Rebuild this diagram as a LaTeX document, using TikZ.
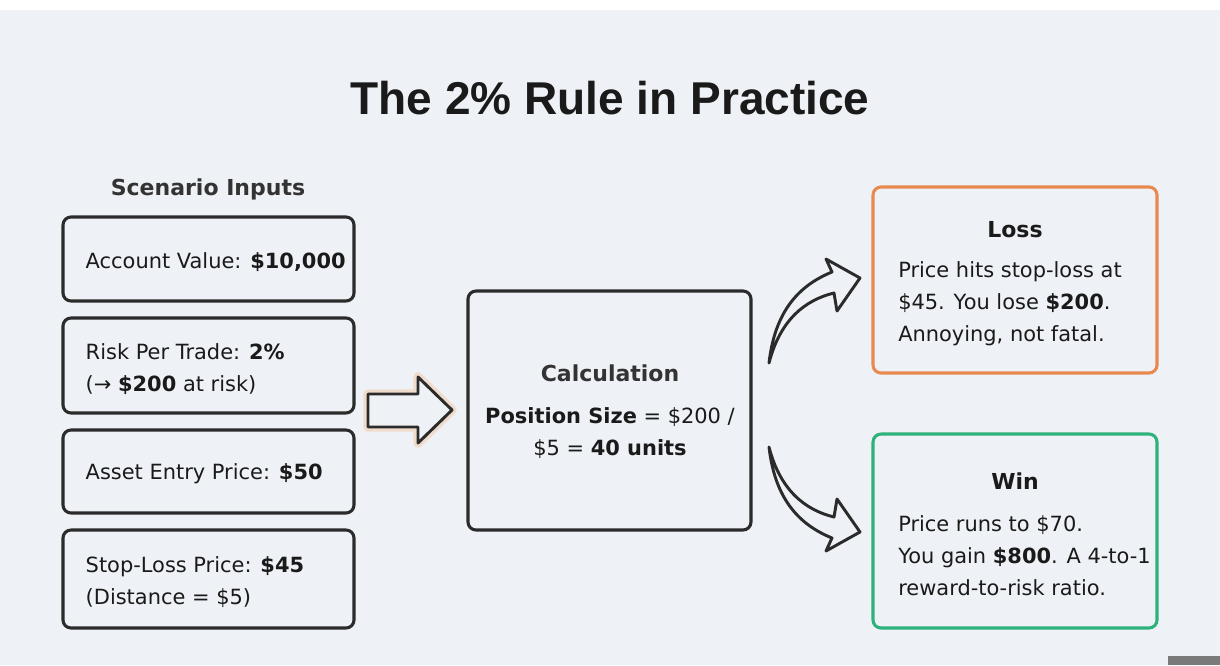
\documentclass[tikz,border=0pt]{standalone}
\usepackage{fontspec}
\setmainfont{DejaVu Sans}
\newfontfamily\headfont{Liberation Sans}
\usetikzlibrary{positioning,calc}
\definecolor{bg}{HTML}{EEF1F5}
\definecolor{ink}{HTML}{1A1A1A}
\definecolor{ink2}{HTML}{2B2B2B}
\definecolor{ink3}{HTML}{333333}
\definecolor{loss}{HTML}{E8894F}
\definecolor{win}{HTML}{2DB27B}
\definecolor{glow}{HTML}{F6B585}
\definecolor{strip}{HTML}{7A7A7A}
\tikzset{
  every picture/.style={line cap=round, line join=round},
  frame/.style={draw=ink2, fill=bg, rounded corners=6pt, line width=2.3pt,
    minimum width=218.25pt, inner sep=0pt},
  inbox/.style={frame},
  lossbox/.style={frame, draw=loss, minimum width=213pt},
  winbox/.style={frame, draw=win, minimum width=213pt},
  calcbox/.style={frame, minimum width=212.25pt, minimum height=179.25pt},
  txt/.style={font=\fontsize{15.7}{24}\selectfont, text=ink, align=left, inner sep=0pt},
  ctxt/.style={txt, align=center},
  heading/.style={font=\fontsize{16.5}{24}\selectfont\bfseries, text=ink3, inner sep=0pt},
  maintitle/.style={font=\headfont\bfseries\fontsize{34.5}{40}\selectfont, text=ink, inner sep=0pt},
  hollow/.style={draw=ink2, fill=bg, line width=2.2pt},
  glowline/.style={draw=glow, line width=7pt, opacity=0.35},
}
\newcommand\bentarrow{(0,0) .. controls (6,-53) and (31,-78) .. (63,-91) -- (57,-104)
  -- (91,-85) -- (68,-52) -- (65,-70) .. controls (36,-63) and (11,-43) .. (0,0) -- cycle}

\begin{document}
\begin{tikzpicture}[x=0.75pt, y=-0.75pt]
  \useasboundingbox (0,0) rectangle (1220,665);
  \fill[white] (0,0) rectangle (1220,10);
  \fill[bg] (0,10) rectangle (1220,665);
  \fill[strip] (1168,656) rectangle (1220,665);

  \node[maintitle] (title) at (610,98) {The 2\% Rule in Practice};

  % ---------------- scenario inputs ----------------
  \node[heading] (inputs) at (208,189) {Scenario Inputs};
  \node[inbox, minimum height=63pt] (acct) at (208.5,259) {};
  \node[inbox, minimum height=71.25pt] (risk) at (208.5,365.5) {};
  \node[inbox, minimum height=62.25pt] (entry) at (208.5,471.5) {};
  \node[inbox, minimum height=73.5pt] (stop) at (208.5,579) {};
  \node[txt, anchor=west] (acctt) at ([xshift=18pt,yshift=-2pt]acct.west) {Account Value: \textbf{\$10,000}};
  \node[txt, anchor=west] (riskt) at ([xshift=18pt,yshift=-2.5pt]risk.west)
    {Risk Per Trade: \textbf{2\%}\\(→ \textbf{\$200} at risk)};
  \node[txt, anchor=west] (entryt) at ([xshift=18pt,yshift=-2pt]entry.west) {Asset Entry Price: \textbf{\$50}};
  \node[txt, anchor=west] (stopt) at ([xshift=18pt,yshift=-2.5pt]stop.west)
    {Stop-Loss Price: \textbf{\$45}\\(Distance = \$5)};

  % ---------------- hollow arrow ----------------
  \draw[glowline] (368,394) -- (418,394) -- (418,377) -- (452,410) -- (418,443)
    -- (418,427) -- (368,427) -- cycle;
  \draw[hollow] (368,394) -- (418,394) -- (418,377) -- (452,410) -- (418,443)
    -- (418,427) -- (368,427) -- cycle;

  % ---------------- calculation ----------------
  \node[calcbox] (calc) at (609.5,410.5) {};
  \node[heading] (calchd) at (610,373) {Calculation};
  \node[ctxt] (calct) at (610,433) {\textbf{Position Size} = \$200 /\\\$5 = \textbf{40 units}};

  % ---------------- outcomes ----------------
  \begin{scope}[shift={(769,363)}]
    \draw[hollow] \bentarrow;
  \end{scope}
  \begin{scope}[shift={(769,447)}, yscale=-1]
    \draw[hollow] \bentarrow;
  \end{scope}

  \node[lossbox, minimum height=139.5pt] (loss) at (1015,280) {};
  \node[heading, text=ink] (losshd) at (1015,230) {Loss};
  \node[txt, anchor=west] (losst) at (898,304)
    {Price hits stop-loss at\\\$45. You lose \textbf{\$200}.\\Annoying, not fatal.};

  \node[winbox, minimum height=145.5pt] (win) at (1015,531) {};
  \node[heading, text=ink] (winhd) at (1015,481) {Win};
  \node[txt, anchor=west] (wint) at (898,556)
    {Price runs to \$70.\\You gain \textbf{\$800}. A 4-to-1\\reward-to-risk ratio.};
\end{tikzpicture}
\end{document}
